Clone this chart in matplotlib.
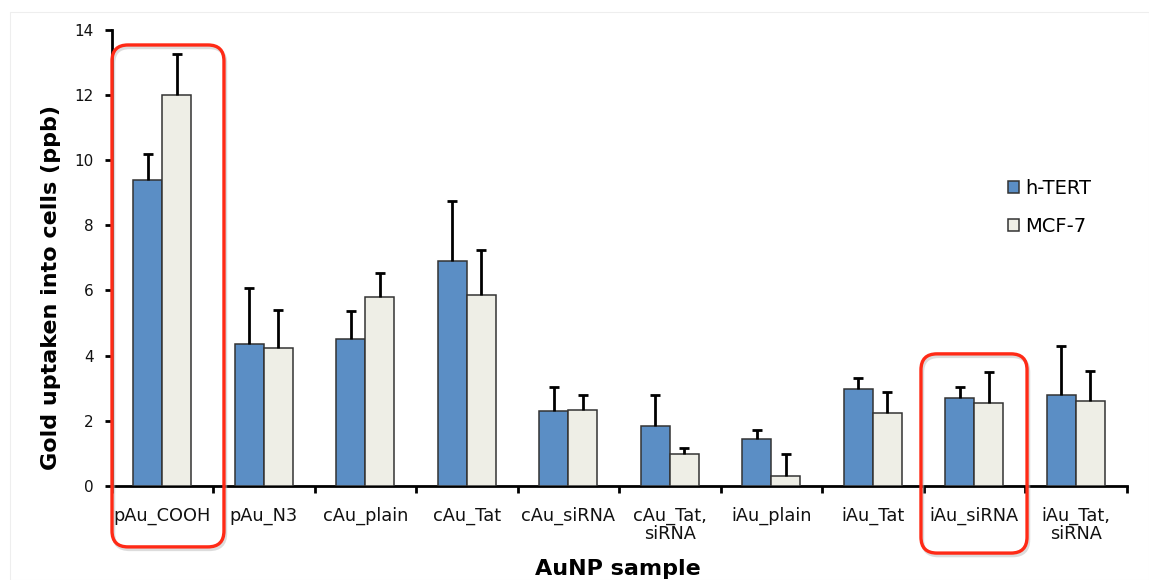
import matplotlib
matplotlib.use("Agg")
import matplotlib.pyplot as plt
import numpy as np
from matplotlib.patches import FancyBboxPatch, Patch

# --- data -------------------------------------------------------------
samples = ["pAu_COOH", "pAu_N3", "cAu_plain", "cAu_Tat", "cAu_siRNA",
           "cAu_Tat,\nsiRNA", "iAu_plain", "iAu_Tat", "iAu_siRNA",
           "iAu_Tat,\nsiRNA"]
htert_mean = [9.4, 4.34, 4.51, 6.9, 2.29, 1.83, 1.44, 2.97, 2.69, 2.79]
htert_err = [0.8, 1.73, 0.85, 1.84, 0.75, 0.97, 0.27, 0.34, 0.34, 1.50]
mcf7_mean = [12.0, 4.24, 5.81, 5.87, 2.32, 0.97, 0.31, 2.24, 2.55, 2.61]
mcf7_err = [1.25, 1.16, 0.71, 1.37, 0.47, 0.19, 0.67, 0.63, 0.94, 0.91]
series_names = ["h-TERT", "MCF-7"]
highlighted = ["pAu_COOH", "iAu_siRNA"]
y_ticks = [0, 2, 4, 6, 8, 10, 12, 14]

# --- style ------------------------------------------------------------
BLUE = "#5B8EC5"
GREY = "#EEEEE6"
EDGE = "#333333"
RED = "#FF2A16"
FONT = "DejaVu Sans"

W, H = 1149, 580
fig = plt.figure(figsize=(W / 100, H / 100), dpi=100)
fig.patch.set_facecolor("white")

ax_left, ax_right = 111.5, 1126.5
ax_top, ax_bottom = 30.0, 485.7
ax = fig.add_axes([ax_left / W, 1 - ax_bottom / H,
                   (ax_right - ax_left) / W, (ax_bottom - ax_top) / H])

n = len(samples)
centers = np.arange(n) + 0.5
bw = 0.286


def bars_with_upper_error(xpos, means, errs, color, label):
    """Bars plus a one-sided (upward) error whisker with a top cap."""
    means = np.asarray(means)
    errs = np.asarray(errs)
    ax.bar(xpos, means, bw, color=color, edgecolor=EDGE, linewidth=1.1,
           zorder=3, label=label)
    ax.vlines(xpos, means, means + errs, colors="black", linewidth=2.0,
              zorder=4)
    ax.plot(xpos, means + errs, linestyle="none", marker="_",
            markersize=6.5, markeredgewidth=2.0, color="black", zorder=4)


bars_with_upper_error(centers - bw / 2, htert_mean, htert_err, BLUE,
                      series_names[0])
bars_with_upper_error(centers + bw / 2, mcf7_mean, mcf7_err, GREY,
                      series_names[1])

ax.set_xlim(0, n)
ax.set_ylim(0, 14)
ax.set_yticks(y_ticks)
ax.set_yticklabels([str(v) for v in y_ticks], fontsize=11, family=FONT,
                   color="#111111")

# boundaries carry tick marks, centres carry the names
ax.set_xticks(np.arange(n + 1))
ax.set_xticklabels([])
ax.set_xticks(centers, minor=True)
ax.set_xticklabels(samples, minor=True, fontsize=12.8, family=FONT,
                   color="#111111", linespacing=1.05, va="top")
ax.tick_params(axis="x", which="minor", length=0, pad=15)
ax.tick_params(axis="x", which="major", direction="out", length=5,
               width=2.0, color="black")
ax.tick_params(axis="y", direction="out", length=5, width=2.0,
               color="black", pad=8)

for side in ("top", "right"):
    ax.spines[side].set_visible(False)
for side in ("left", "bottom"):
    ax.spines[side].set_linewidth(2.0)
    ax.spines[side].set_color("black")

fig.text(618 / W, 1 - 569 / H, "AuNP sample", ha="center", va="center",
         fontsize=16, fontweight="bold", family=FONT)
fig.text(51 / W, 1 - 288 / H, "Gold uptaken into cells (ppb)",
         ha="center", va="center", rotation=90, fontsize=16,
         fontweight="bold", family=FONT)

# legend
handles = [Patch(facecolor=BLUE, edgecolor=EDGE, linewidth=1.1),
           Patch(facecolor=GREY, edgecolor=EDGE, linewidth=1.1)]
leg = fig.legend(handles, series_names, loc="upper left",
                 bbox_to_anchor=(1008 / W, 1 - 178.5 / H),
                 frameon=False, handlelength=0.58,
                 handleheight=0.58, handletextpad=0.3, labelspacing=1.0,
                 borderpad=0, borderaxespad=0,
                 prop={"family": FONT, "size": 14})

# highlight frames drawn in pixel space so corners stay round
fig.canvas.draw()
overlay = fig.add_axes([0, 0, 1, 1], facecolor="none")
overlay.set_xlim(0, W)
overlay.set_ylim(0, H)
overlay.axis("off")

frame_extent = {  # (left, right, top, bottom) in data units around a sample
    "pAu_COOH": (0.005, 1.108, 13.54, -1.88),
    "iAu_siRNA": (-0.025, 1.02, 4.05, -2.07),
}
for name in highlighted:
    i = samples.index(name)
    l, r, t, b = frame_extent[name]
    (x0, y0) = ax.transData.transform((i + l, b))
    (x1, y1) = ax.transData.transform((i + r, t))
    shadow = FancyBboxPatch((x0 + 1.5, y0 - 2.5), x1 - x0, y1 - y0,
                            boxstyle="round,pad=0,rounding_size=16",
                            facecolor="none", edgecolor="#bbbbbb",
                            linewidth=2.5, alpha=0.5)
    overlay.add_patch(shadow)
    box = FancyBboxPatch((x0, y0), x1 - x0, y1 - y0,
                         boxstyle="round,pad=0,rounding_size=16",
                         facecolor="none", edgecolor=RED, linewidth=2.4)
    overlay.add_patch(box)

# faint outer border
overlay.add_patch(plt.Rectangle((10, 0), W - 10, H - 12, facecolor="none",
                                edgecolor="#eeeeee", linewidth=0.8))

fig.savefig("out.png", dpi=100)
